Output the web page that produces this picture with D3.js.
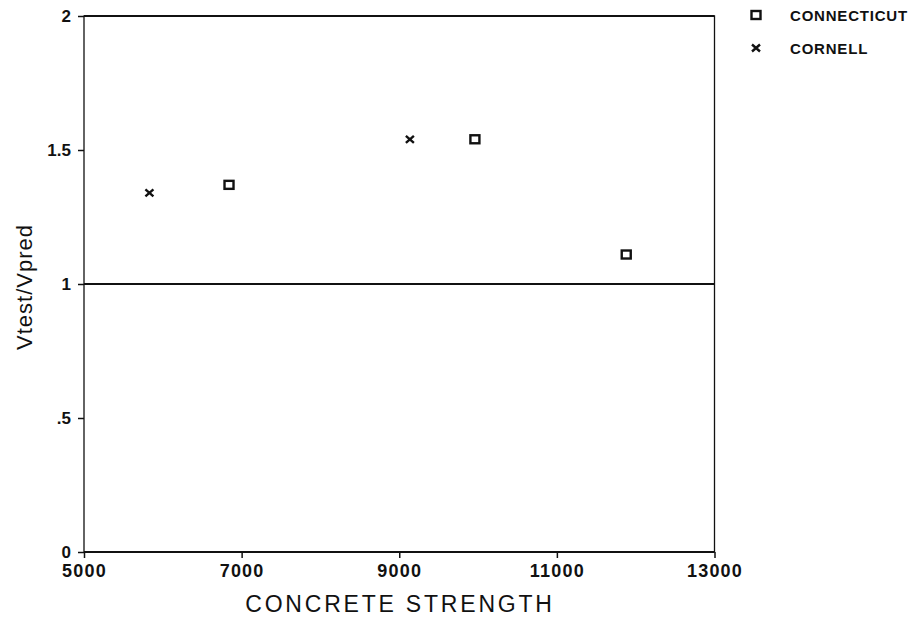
<!DOCTYPE html>
<html><head><meta charset="utf-8">
<script src="https://cdn.jsdelivr.net/npm/d3@7"></script>
<style>body{margin:0;background:#fff}</style>
</head><body>
<svg id="c" width="920" height="619"></svg>
<script>
const connecticutX = [6840, 9960, 11880];
const connecticutY = [1.37, 1.54, 1.11];
const cornellX = [5830, 9135];
const cornellY = [1.34, 1.54];
const xTicks = [5000, 7000, 9000, 11000, 13000];
const yTicks = [0, 0.5, 1, 1.5, 2];
const yTickLabels = ["0", ".5", "1", "1.5", "2"];
const legendNames = ["CONNECTICUT", "CORNELL"];

const svg = d3.select("#c");
const x = d3.scaleLinear().domain([5000, 13000]).range([84, 714.5]);
const y = d3.scaleLinear().domain([0, 2]).range([552, 16]);
const font = "Liberation Sans, Arial, sans-serif";

// frame
svg.append("rect").attr("x", x(5000)).attr("y", y(2))
  .attr("width", x(13000) - x(5000)).attr("height", y(0) - y(2))
  .attr("fill", "none").attr("stroke", "#111").attr("stroke-width", 1.3);
svg.append("line").attr("x1", x(5000)).attr("x2", x(13000)).attr("y1", y(2)).attr("y2", y(2))
  .attr("stroke", "#111").attr("stroke-width", 2.2);
svg.append("line").attr("x1", x(5000)).attr("x2", x(13000)).attr("y1", y(0)).attr("y2", y(0))
  .attr("stroke", "#111").attr("stroke-width", 2);
// reference line at 1
svg.append("line").attr("x1", x(5000)).attr("x2", x(13000)).attr("y1", y(1)).attr("y2", y(1))
  .attr("stroke", "#111").attr("stroke-width", 2);

// axes
const xAxis = d3.axisBottom(x).tickValues(xTicks).tickSize(6).tickPadding(6).tickFormat(d3.format("d"));
const gx = svg.append("g").attr("transform", `translate(0,${y(0)})`).call(xAxis);
gx.select(".domain").remove();
gx.selectAll("line").attr("stroke", "#111").attr("stroke-width", 1.5);
gx.selectAll("text").attr("font-family", font).attr("font-size", 18).attr("font-weight", "bold")
  .attr("letter-spacing", 1.2).attr("fill", "#111");

const yAxis = d3.axisLeft(y).tickValues(yTicks).tickSize(6).tickPadding(7)
  .tickFormat((d, i) => yTickLabels[i]);
const gy = svg.append("g").attr("transform", `translate(${x(5000)},0)`).call(yAxis);
gy.select(".domain").remove();
gy.selectAll("line").attr("stroke", "#111").attr("stroke-width", 1.5);
gy.selectAll("text").attr("font-family", font).attr("font-size", 17).attr("font-weight", "bold").attr("fill", "#111");

// axis titles
svg.append("text").attr("x", 400).attr("y", 612).attr("text-anchor", "middle")
  .attr("font-family", font).attr("font-size", 23).attr("letter-spacing", 2.8).attr("fill", "#111").text("CONCRETE STRENGTH");
svg.append("text").attr("transform", "translate(32,287) rotate(-90)").attr("text-anchor", "middle")
  .attr("font-family", font).attr("font-size", 22).attr("letter-spacing", 1).attr("fill", "#111").text("Vtest/Vpred");

// markers
function square(g, cx, cy) {
  g.append("rect").attr("x", cx - 4.5).attr("y", cy - 4).attr("width", 9).attr("height", 8)
    .attr("fill", "none").attr("stroke", "#111").attr("stroke-width", 2.4);
}
function cross(g, cx, cy) {
  g.append("path").attr("d", `M${cx-4},${cy-3.5}L${cx+4},${cy+3.5}M${cx-4},${cy+3.5}L${cx+4},${cy-3.5}`)
    .attr("stroke", "#111").attr("stroke-width", 2.4).attr("fill", "none");
}
const pts = svg.append("g");
connecticutX.forEach((v, i) => square(pts, x(v), y(connecticutY[i])));
cornellX.forEach((v, i) => cross(pts, x(v), y(cornellY[i])));

// legend
const lg = svg.append("g");
square(lg, 756, 15);
cross(lg, 756, 48);
legendNames.forEach((n, i) => {
  lg.append("text").attr("x", 790).attr("y", 21 + i * 33).attr("font-family", font)
    .attr("font-size", 15).attr("font-weight", "bold").attr("letter-spacing", 0.8).attr("fill", "#111").text(n);
});
</script>
</body></html>
